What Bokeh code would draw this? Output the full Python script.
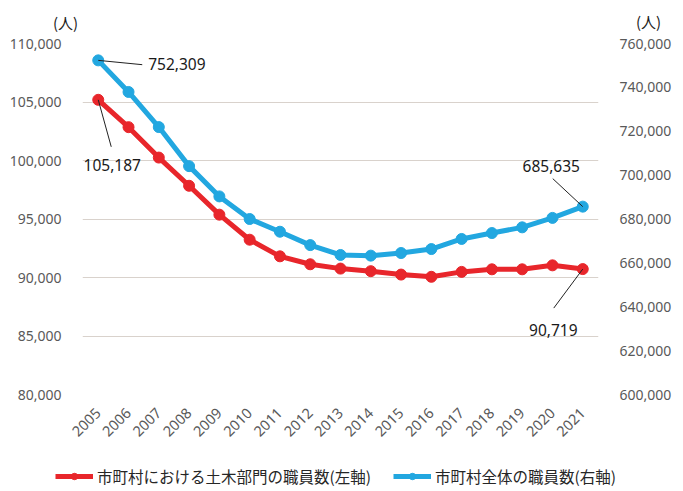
import math
from bokeh.plotting import figure
from bokeh.layouts import column
from bokeh.models import (Range1d, LinearAxis, FixedTicker, NumeralTickFormatter,
                          Legend, LegendItem, Label, ColumnDataSource)
from bokeh.embed import file_html
from bokeh.resources import INLINE

# ---------------- data ----------------
years = list(range(2005, 2022))
civil_staff = [105187, 102850, 100250, 97840, 95370, 93230, 91810, 91130, 90760,
               90540, 90250, 90060, 90480, 90700, 90700, 91040, 90719]
total_staff = [752309, 737900, 721900, 704100, 690300, 680000, 674200, 668100, 663600,
               663300, 664500, 666300, 670900, 673600, 676200, 680500, 685635]
left_ticks = [80000, 85000, 90000, 95000, 100000, 105000, 110000]
right_ticks = [600000, 620000, 640000, 660000, 680000, 700000, 720000, 740000, 760000]
series_names = ["市町村における土木部門の職員数(左軸)", "市町村全体の職員数(右軸)"]
unit_label = "(人)"

# ---------------- layout ----------------
RED = "#E8262B"
BLUE = "#22A7E0"
W = 683
TOP_H = 33          # strip holding the unit labels
LEG_H = 24          # strip holding the legend
FW, FH = 516, 351
BL, BT = 82, 10
MAIN_H = 433
BR = W - BL - FW
BB = MAIN_H - BT - FH
X0, X1 = 2004.48, 2021.52
L0, L1 = 80000, 110000
R0, R1 = 600000, 760000
PX_X = (X1 - X0) / FW      # years per px
PX_L = (L1 - L0) / FH      # left units per px
PX_R = (R1 - R0) / FH      # right units per px


def strip(height):
    f = figure(width=W, height=height, x_range=Range1d(0, W), y_range=Range1d(height, 0),
               x_axis_type=None, y_axis_type=None, min_border=0,
               output_backend="svg", toolbar_location=None, tools="")
    f.outline_line_color = None
    f.xgrid.grid_line_color = None
    f.ygrid.grid_line_color = None
    f.background_fill_color = "white"
    f.border_fill_color = "white"
    f.frame_align = False
    return f


# ---------------- main chart ----------------
p = figure(frame_width=FW, frame_height=FH,
           min_border_left=BL, min_border_right=BR,
           min_border_top=BT, min_border_bottom=BB,
           x_range=Range1d(X0, X1), y_range=Range1d(L0, L1),
           output_backend="svg", toolbar_location=None, tools="")
p.frame_align = False
p.extra_y_ranges = {"right": Range1d(R0, R1)}
p.outline_line_color = None
p.background_fill_color = "white"
p.border_fill_color = "white"

right_axis = LinearAxis(y_range_name="right")
p.add_layout(right_axis, "right")

p.xaxis.ticker = FixedTicker(ticks=years)
p.xaxis.major_label_orientation = math.pi / 4
p.yaxis[0].ticker = FixedTicker(ticks=left_ticks)
right_axis.ticker = FixedTicker(ticks=right_ticks)
p.yaxis[0].formatter = NumeralTickFormatter(format="0,0")
right_axis.formatter = NumeralTickFormatter(format="0,0")

for ax in [p.xaxis[0], p.yaxis[0], right_axis]:
    ax.axis_line_color = None
    ax.major_tick_line_color = None
    ax.minor_tick_line_color = None
    ax.major_label_text_color = "#595959"
    ax.major_label_text_font = "Noto Sans"
    ax.major_label_text_font_size = "14px"
p.xaxis[0].major_label_text_font_size = "14.5px"
p.yaxis[0].major_label_standoff = 15
right_axis.major_label_standoff = 15
p.xaxis[0].major_label_standoff = 10

p.xgrid.grid_line_color = None
p.ygrid.grid_line_color = "#d9d2cc"
p.ygrid.grid_line_width = 1.2

src = ColumnDataSource(dict(year=years, civil=civil_staff, total=total_staff))
p.line("year", "civil", source=src, line_color=RED, line_width=5)
p.scatter("year", "civil", source=src, size=11, fill_color=RED, line_color=RED)
p.line("year", "total", source=src, line_color=BLUE, line_width=5, y_range_name="right")
p.scatter("year", "total", source=src, size=11, fill_color=BLUE, line_color=BLUE,
          y_range_name="right")


def annotate(idx, vals, per_px, rng, lab_dx, lab_dy, lead_dx, lead_dy, align):
    x, y = years[idx], vals[idx]
    p.segment(x0=[x], y0=[y], x1=[x + lead_dx * PX_X], y1=[y + lead_dy * per_px],
              line_color="#222222", line_width=1, y_range_name=rng)
    p.add_layout(Label(x=x, y=y, x_offset=lab_dx, y_offset=lab_dy,
                       text=f"{vals[idx]:,}", text_align=align, text_baseline="middle",
                       text_font="Noto Sans", text_font_size="15.5px",
                       text_color="#1a1a1a", y_range_name=rng))


annotate(0, total_staff, PX_R, "right", 50, -4, 44, -4.3, "left")
annotate(0, civil_staff, PX_L, "default", 14, -65, 13, -47, "center")
annotate(-1, total_staff, PX_R, "right", -31.5, 41, -30, 28, "center")
annotate(-1, civil_staff, PX_L, "default", -29.5, -61, -29, -39, "center")

# ---------------- unit labels strip ----------------
top = strip(TOP_H)
for ux, uy in [(65, 21.5), (648, 21)]:
    top.add_layout(Label(x=ux, y=uy, text=unit_label, text_align="center",
                         text_baseline="middle", text_font="Noto Sans CJK JP",
                         text_font_size="15px", text_color="#1a1a1a"))

# ---------------- legend strip ----------------
# series drawn here fall outside the strip's pixel ranges; they only feed the legend
leg = strip(LEG_H)
lsrc = ColumnDataSource(dict(year=years, civil=civil_staff, total=total_staff))
lr1 = leg.line("year", "civil", source=lsrc, line_color=RED, line_width=5)
lr2 = leg.scatter("year", "civil", source=lsrc, size=11, fill_color=RED, line_color=RED)
lb1 = leg.line("year", "total", source=lsrc, line_color=BLUE, line_width=5)
lb2 = leg.scatter("year", "total", source=lsrc, size=11, fill_color=BLUE, line_color=BLUE)
legend = Legend(items=[LegendItem(label=series_names[0], renderers=[lr1, lr2]),
                       LegendItem(label=series_names[1], renderers=[lb1, lb2])],
                orientation="horizontal", location=(55, 3),
                glyph_width=38, glyph_height=16, label_standoff=4, spacing=22,
                padding=0, margin=0, border_line_color=None,
                background_fill_alpha=0,
                label_text_font="Noto Sans CJK JP", label_text_font_size="15.5px",
                label_text_color="#262626")
leg.add_layout(legend)

page = column(top, p, leg, spacing=0)
open("out.html", "w").write(file_html(page, INLINE))
